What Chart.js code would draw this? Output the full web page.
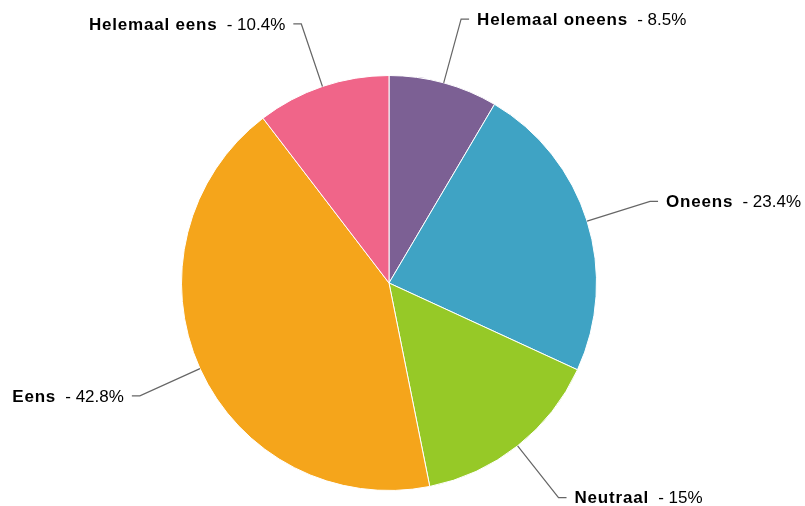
<!DOCTYPE html>
<html>
<head>
<meta charset="utf-8">
<script src="https://cdn.jsdelivr.net/npm/chart.js@4"></script>
<style>
  html, body { margin: 0; padding: 0; background: #fff; }
  #wrap { width: 805px; height: 506px; }
</style>
</head>
<body>
<div id="wrap"><canvas id="pieChart"></canvas></div>
<script>
// Chart data
const labels = ['Helemaal oneens', 'Oneens', 'Neutraal', 'Eens', 'Helemaal eens'];
const values = [8.5, 23.4, 15, 42.8, 10.4];
const colors = ['#7c6094', '#3fa3c4', '#96c927', '#f5a51b', '#f06589'];

const FONT = '"Liberation Sans", Arial, sans-serif';

/**
 * Draws the outside labels with elbow leader lines.
 */
const leaderLabels = {
  id: 'leaderLabels',
  afterDraw(chart) {
    const ctx = chart.ctx;
    const meta = chart.getDatasetMeta(0);
    meta.data.forEach((arc, i) => {
      const mid = (arc.startAngle + arc.endAngle) / 2;
      const cos = Math.cos(mid), sin = Math.sin(mid);
      const r = arc.outerRadius;
      const x0 = arc.x + cos * r, y0 = arc.y + sin * r;
      const x1 = arc.x + cos * (r + 66), y1 = arc.y + sin * (r + 66);
      const dir = cos >= 0 ? 1 : -1;
      const x2 = x1 + dir * 8;

      ctx.save();
      ctx.strokeStyle = '#666';
      ctx.lineWidth = 1.2;
      ctx.beginPath();
      ctx.moveTo(x0, y0);
      ctx.lineTo(x1, y1);
      ctx.lineTo(x2, y1);
      ctx.stroke();

      const bold = labels[i];
      const rest = '- ' + values[i] + '%';
      const spacing = 0.8;
      ctx.textBaseline = 'middle';
      ctx.textAlign = 'left';
      ctx.fillStyle = '#000';
      ctx.font = 'bold 17px ' + FONT;
      const wBold = ctx.measureText(bold).width + spacing * (bold.length - 1);
      ctx.font = '17px ' + FONT;
      const wRest = ctx.measureText(rest).width;
      const gap = 10;
      const total = wBold + gap + wRest;
      let tx = dir > 0 ? x2 + 8 : x2 - 8 - total;
      const ty = y1 + 1;

      ctx.font = 'bold 17px ' + FONT;
      let cx = tx;
      for (const ch of bold) {
        ctx.fillText(ch, cx, ty);
        cx += ctx.measureText(ch).width + spacing;
      }
      ctx.font = '17px ' + FONT;
      ctx.fillText(rest, tx + wBold + gap, ty);
      ctx.restore();
    });
  }
};

new Chart(document.getElementById('pieChart'), {
  type: 'pie',
  data: {
    labels: labels,
    datasets: [{
      data: values,
      backgroundColor: colors,
      borderColor: '#fff',
      borderWidth: 1
    }]
  },
  options: {
    responsive: true,
    maintainAspectRatio: false,
    animation: false,
    layout: {
      padding: { top: 75, bottom: 15, left: 100, right: 127 }
    },
    plugins: {
      legend: { display: false },
      tooltip: { enabled: false }
    }
  },
  plugins: [leaderLabels]
});
</script>
</body>
</html>
